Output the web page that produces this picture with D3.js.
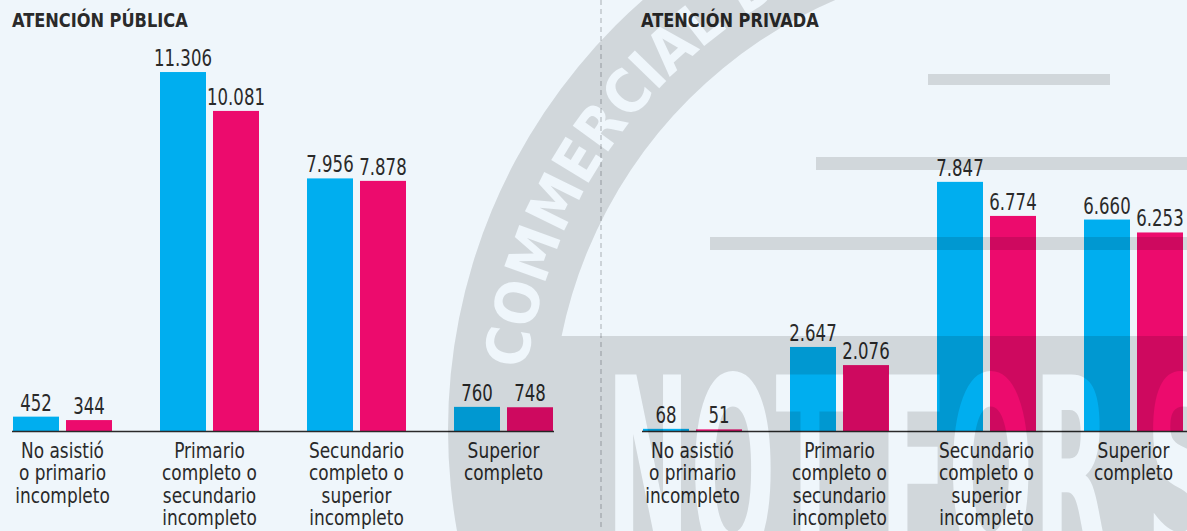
<!DOCTYPE html>
<html>
<head>
<meta charset="utf-8">
<script src="https://cdn.jsdelivr.net/npm/d3@7"></script>
<style>
  body { margin: 0; background: #eff6fb; }
  svg { display: block; }
  text { font-family: "DejaVu Sans Condensed", "Liberation Sans Narrow", sans-serif; fill: #2a2a2a; }
</style>
</head>
<body>
<div id="chart"></div>
<script>
// categories (one line per array entry)
const categories = [
  ["No asistió", "o primario", "incompleto"],
  ["Primario", "completo o", "secundario", "incompleto"],
  ["Secundario", "completo o", "superior", "incompleto"],
  ["Superior", "completo"]
];

// values
const publicBlue = [452, 11306, 7956, 760];
const publicPink = [344, 10081, 7878, 748];
const privateBlue = [68, 2647, 7847, 6660];
const privatePink = [51, 2076, 6774, 6253];

const panelTitles = ["ATENCIÓN PÚBLICA", "ATENCIÓN PRIVADA"];

const w = 1187, h = 531;
const baseY = 431;
const colors = ["#00aeef", "#ec0b6d"];

const fmt = d3.formatLocale({ decimal: ",", thousands: ".", grouping: [3], currency: ["$", ""] }).format(",d");

let svg = d3.select("#chart")
  .append("svg")
  .attr("width", w)
  .attr("height", h);

svg.append("rect").attr("width", w).attr("height", h).attr("fill", "#eff6fb");

// shared value scale for both panels
let y = d3.scaleLinear().domain([0, 12000]).range([baseY, 50]);

// dashed divider
svg.append("line")
  .attr("x1", 601).attr("x2", 601)
  .attr("y1", 0).attr("y2", h)
  .attr("stroke", "#a9afb4")
  .attr("stroke-width", 1)
  .attr("stroke-dasharray", "5,4");

let panels = [
  { title: panelTitles[0], blue: publicBlue, pink: publicPink, range: [13, 553], titleX: 12, axis: [12, 554] },
  { title: panelTitles[1], blue: privateBlue, pink: privatePink, range: [643, 1183], titleX: 641, axis: [642, 1187] }
];

panels.forEach((p) => {

  let x0 = d3.scaleBand()
    .domain(d3.range(categories.length))
    .range(p.range)
    .paddingInner(48 / 147)
    .paddingOuter(0);

  let x1 = d3.scaleBand()
    .domain([0, 1])
    .range([0, x0.bandwidth()])
    .paddingInner(7 / 53);

  let g = svg.append("g");

  g.append("text")
    .attr("transform", `translate(${p.titleX},27) scale(0.9,1)`)
    .attr("font-size", 20)
    .attr("font-weight", "bold")
    .text(p.title);

  let groups = g.selectAll(".grp")
    .data(categories.map((c, i) => ({ i: i, vals: [p.blue[i], p.pink[i]] })))
    .enter()
    .append("g")
    .attr("transform", (d) => `translate(${x0(d.i)},0)`);

  groups.selectAll("rect")
    .data((d) => d.vals)
    .enter()
    .append("rect")
    .attr("x", (d, j) => x1(j))
    .attr("y", (d) => y(d))
    .attr("width", x1.bandwidth())
    .attr("height", (d) => baseY - y(d))
    .attr("fill", (d, j) => colors[j]);

  // value labels, squeezed a bit to mimic the narrow newspaper face
  groups.selectAll(".val")
    .data((d) => d.vals)
    .enter()
    .append("text")
    .attr("class", "val")
    .attr("transform", (d, j) => `translate(${x1(j) + x1.bandwidth() / 2},${y(d) - 6}) scale(0.8,1)`)
    .attr("text-anchor", "middle")
    .attr("font-size", 23)
    .text((d) => fmt(d));

  // axis line
  g.append("line")
    .attr("x1", p.axis[0]).attr("x2", p.axis[1])
    .attr("y1", baseY + 0.5).attr("y2", baseY + 0.5)
    .attr("stroke", "#2a2a2a")
    .attr("stroke-width", 1.6);

  let labels = g.selectAll(".cat")
    .data(categories)
    .enter()
    .append("text")
    .attr("class", "cat")
    .attr("text-anchor", "middle")
    .attr("font-size", 20.5)
    .attr("transform", (d, i) => `translate(${x0(i) + x0.bandwidth() / 2},458) scale(0.92,1)`);

  labels.selectAll("tspan")
    .data((d) => d)
    .enter()
    .append("tspan")
    .attr("x", 0)
    .attr("y", (d, k) => k * 22.5)
    .text((d) => d);

});

// faint stamp watermark laid over the chart
let cx = 1020, cy = 430;
let defs = svg.append("defs");
let mask = defs.append("mask").attr("id", "wm")
  .attr("maskUnits", "userSpaceOnUse")
  .attr("x", 0).attr("y", 0).attr("width", w).attr("height", h);

let arcPath = (r) => `M${cx - r},${cy} a${r},${r} 0 1,0 ${2 * r},0 a${r},${r} 0 1,0 ${-2 * r},0`;
mask.append("path")
  .attr("d", arcPath(572) + arcPath(468))
  .attr("fill-rule", "evenodd")
  .attr("fill", "#fff");
mask.append("rect").attr("x", 540).attr("y", 336).attr("width", 660).attr("height", 200).attr("fill", "#fff");
[[928, 74, 182, 11], [816, 157, 380, 13], [710, 237, 480, 13]].forEach((b) => {
  mask.append("rect").attr("x", b[0]).attr("y", b[1]).attr("width", b[2]).attr("height", b[3]).attr("fill", "#fff");
});
mask.append("text")
  .attr("transform", "translate(606,564) scale(0.43,1)")
  .attr("font-size", 260)
  .attr("font-weight", "bold")
  .style("fill", "#000")
  .text("NOT FOR SALE");

let a0 = 187 * Math.PI / 180, a1 = 320 * Math.PI / 180, rr = 497;
defs.append("path").attr("id", "ringtext")
  .attr("d", `M${cx + rr * Math.cos(a0)},${cy + rr * Math.sin(a0)} A${rr},${rr} 0 0,1 ${cx + rr * Math.cos(a1)},${cy + rr * Math.sin(a1)}`);
mask.append("text")
  .attr("font-size", 60)
  .attr("font-weight", "bold")
  .style("fill", "#000")
  .append("textPath")
  .attr("href", "#ringtext")
  .text("COMMERCIAL DISTRIBUTION");

svg.append("rect")
  .attr("width", w).attr("height", h)
  .attr("fill", "#000")
  .attr("opacity", 0.12)
  .attr("mask", "url(#wm)");
</script>
</body>
</html>
